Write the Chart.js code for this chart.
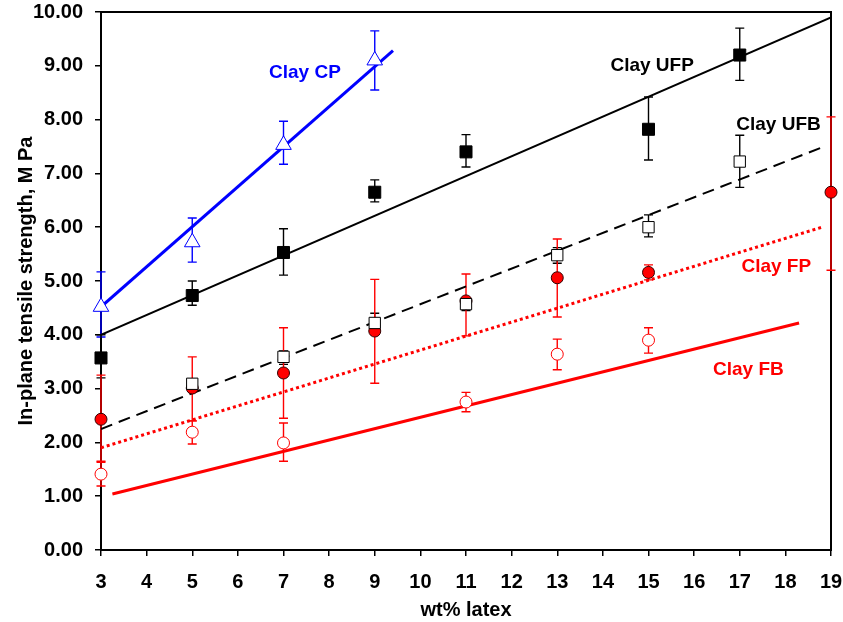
<!DOCTYPE html>
<html>
<head>
<meta charset="utf-8">
<script src="https://cdn.jsdelivr.net/npm/chart.js@4.4.1/dist/chart.umd.min.js"></script>
<style>
  html, body { margin: 0; padding: 0; background: #fff; }
  #wrap { width: 843px; height: 622px; }
</style>
</head>
<body>
<div id="wrap"><canvas id="myChart" width="843" height="622"></canvas></div>
<script>
// Datos (resistencia a traccion, MPa)
const cpX = [3, 5, 7, 9];
const cpY = [4.52, 5.72, 7.53, 9.1];
const cpHi = [5.17, 6.17, 7.97, 9.65];
const cpLo = [3.96, 5.35, 7.17, 8.55];

const ufpX = [3, 5, 7, 9, 11, 15, 17];
const ufpY = [3.57, 4.73, 5.53, 6.65, 7.4, 7.82, 9.2];
const ufpHi = [4.0, 5.0, 5.97, 6.88, 7.72, 8.42, 9.7];
const ufpLo = [3.2, 4.55, 5.11, 6.47, 7.12, 7.25, 8.73];

const ufbX = [5, 7, 9, 11, 13, 15, 17];
const ufbY = [3.09, 3.59, 4.22, 4.57, 5.48, 6.0, 7.22];
const ufbHi = [3.18, 3.7, 4.4, 4.65, 5.62, 6.23, 7.71];
const ufbLo = [2.95, 3.45, 4.05, 4.45, 5.33, 5.82, 6.74];

const fpX = [3, 5, 7, 9, 11, 13, 15, 19];
const fpY = [2.43, 3.01, 3.29, 4.07, 4.63, 5.06, 5.16, 6.65];
const fpHi = [3.25, 3.59, 4.13, 5.03, 5.13, 5.78, 5.3, 8.05];
const fpLo = [1.65, 2.4, 2.45, 3.1, 3.98, 4.33, 5.02, 5.2];

const fbX = [3, 5, 7, 11, 13, 15];
const fbY = [1.41, 2.19, 1.99, 2.75, 3.64, 3.9];
const fbHi = [1.63, 2.4, 2.36, 2.93, 3.92, 4.13];
const fbLo = [1.19, 1.97, 1.65, 2.57, 3.35, 3.66];

// Lineas de tendencia (extremos)
const cpFitX = [3, 9.4];
const cpFitY = [4.52, 9.28];
const ufpFitX = [3, 19];
const ufpFitY = [4.0, 9.9];
const ufbFitX = [3, 18.85];
const ufbFitY = [2.25, 7.5];
const fpFitX = [3, 18.8];
const fpFitY = [1.9, 6.0];
const fbFitX = [3.25, 18.3];
const fbFitY = [1.04, 4.22];

// Etiquetas de las series
const labelNames = ['Clay CP', 'Clay UFP', 'Clay UFB', 'Clay FP', 'Clay FB'];
const labelX = [7.47, 15.08, 17.85, 17.8, 17.19];
const labelY = [8.87, 9.0, 7.9, 5.26, 3.35];

const xTicks = [3, 19];
const yTicks = [0, 10];

const BLUE = '#0000ff';
const RED = '#ff0000';
const BLACK = '#000000';
const labelColors = [BLUE, BLACK, BLACK, RED, RED];

function pts(xs, ys) {
  return xs.map(function(x, i) { return { x: x, y: ys[i] }; });
}

function serie(label, xs, ys, hi, lo, color, style, radius, fill, border) {
  return {
    type: 'scatter',
    label: label,
    data: pts(xs, ys),
    errHi: hi,
    errLo: lo,
    errColor: color,
    pointStyle: style,
    pointRadius: radius,
    pointHoverRadius: radius,
    backgroundColor: fill,
    borderColor: border,
    borderWidth: 1,
    clip: false,
    order: 1
  };
}

function tendencia(xs, ys, color, width, dash) {
  return {
    type: 'line',
    data: pts(xs, ys),
    borderColor: color,
    borderWidth: width,
    borderDash: dash,
    pointRadius: 0,
    fill: false,
    tension: 0,
    order: 2
  };
}

// Marco del area del grafico (antes de las barras de error)
const marco = {
  id: 'marco',
  beforeDatasetsDraw: function(chart) {
    const ctx = chart.ctx, a = chart.chartArea;
    ctx.save();
    ctx.strokeStyle = BLACK;
    ctx.lineWidth = 2;
    ctx.strokeRect(a.left, a.top, a.right - a.left, a.bottom - a.top);
    ctx.restore();
  },
  afterDraw: function(chart) {
    // etiquetas de las series
    const ctx = chart.ctx;
    ctx.save();
    ctx.font = 'bold 19px "Liberation Sans", Arial, sans-serif';
    ctx.textAlign = 'center';
    ctx.textBaseline = 'middle';
    labelNames.forEach(function(t, i) {
      ctx.fillStyle = labelColors[i];
      ctx.fillText(t, chart.scales.x.getPixelForValue(labelX[i]), chart.scales.y.getPixelForValue(labelY[i]));
    });
    ctx.restore();
  }
};

// Barras de error, dibujadas con las escalas del grafico
const errorBars = {
  id: 'errorBars',
  beforeDatasetsDraw: function(chart) {
    const ctx = chart.ctx;
    const xs = chart.scales.x, ys = chart.scales.y;
    ctx.save();
    chart.data.datasets.forEach(function(ds) {
      if (!ds.errHi) return;
      ctx.strokeStyle = ds.errColor;
      ctx.lineWidth = 1.4;
      ds.data.forEach(function(p, i) {
        const px = xs.getPixelForValue(p.x);
        const top = ys.getPixelForValue(ds.errHi[i]);
        const bot = ys.getPixelForValue(ds.errLo[i]);
        ctx.beginPath();
        ctx.moveTo(px, top); ctx.lineTo(px, bot);
        ctx.moveTo(px - 4.5, top); ctx.lineTo(px + 4.5, top);
        ctx.moveTo(px - 4.5, bot); ctx.lineTo(px + 4.5, bot);
        ctx.stroke();
      });
    });
    ctx.restore();
  }
};

document.addEventListener('DOMContentLoaded', function() {
  const ctx = document.getElementById('myChart').getContext('2d');
  Chart.defaults.font.family = '"Liberation Sans", Arial, sans-serif';
  Chart.defaults.color = BLACK;

  new Chart(ctx, {
    data: {
      datasets: [
        serie('Clay CP', cpX, cpY, cpHi, cpLo, BLUE, 'triangle', 9, '#ffffff', BLUE),
        serie('Clay UFP', ufpX, ufpY, ufpHi, ufpLo, BLACK, 'rect', 8.5, BLACK, BLACK),
        serie('Clay UFB', ufbX, ufbY, ufbHi, ufbLo, BLACK, 'rect', 8, '#ffffff', BLACK),
        serie('Clay FP', fpX, fpY, fpHi, fpLo, RED, 'circle', 6, RED, '#330000'),
        serie('Clay FB', fbX, fbY, fbHi, fbLo, RED, 'circle', 6, '#ffffff', RED),
        tendencia(cpFitX, cpFitY, BLUE, 3, []),
        tendencia(ufpFitX, ufpFitY, BLACK, 2, []),
        tendencia(ufbFitX, ufbFitY, BLACK, 2, [12, 7]),
        tendencia(fpFitX, fpFitY, RED, 3, [3, 3]),
        tendencia(fbFitX, fbFitY, RED, 3, [])
      ]
    },
    options: {
      responsive: false,
      animation: false,
      layout: { autoPadding: false, padding: { top: 12, right: 12, left: 0, bottom: 0 } },
      plugins: {
        legend: { display: false },
        tooltip: { enabled: false }
      },
      scales: {
        x: {
          type: 'linear',
          min: xTicks[0],
          max: xTicks[1],
          afterFit: function(s) { s.height = 72; s.paddingLeft = 0; s.paddingRight = 0; },
          ticks: {
            stepSize: 1,
            padding: 14,
            font: { size: 20, weight: 'bold' },
            maxRotation: 0
          },
          grid: { drawOnChartArea: false, color: BLACK, tickLength: 6, lineWidth: 1.5 },
          border: { display: true, color: BLACK, width: 2 },
          title: {
            display: true,
            text: 'wt% latex',
            font: { size: 20, weight: 'bold' },
            padding: { top: 0, bottom: 0 }
          }
        },
        y: {
          type: 'linear',
          min: yTicks[0],
          max: yTicks[1],
          afterFit: function(s) { s.width = 101; s.paddingTop = 0; s.paddingBottom = 0; },
          ticks: {
            stepSize: 0.5,
            padding: 12,
            font: { size: 20, weight: 'bold' },
            callback: function(v) { return Number.isInteger(v) ? v.toFixed(2) : ''; }
          },
          grid: { drawOnChartArea: false, color: BLACK, tickLength: 6, lineWidth: 1.5 },
          border: { display: true, color: BLACK, width: 2 },
          title: {
            display: true,
            text: 'In-plane tensile strength, M Pa',
            font: { size: 20, weight: 'bold' },
            padding: { top: 14, bottom: 0 }
          }
        }
      }
    },
    plugins: [marco, errorBars]
  });
});
</script>
</body>
</html>
